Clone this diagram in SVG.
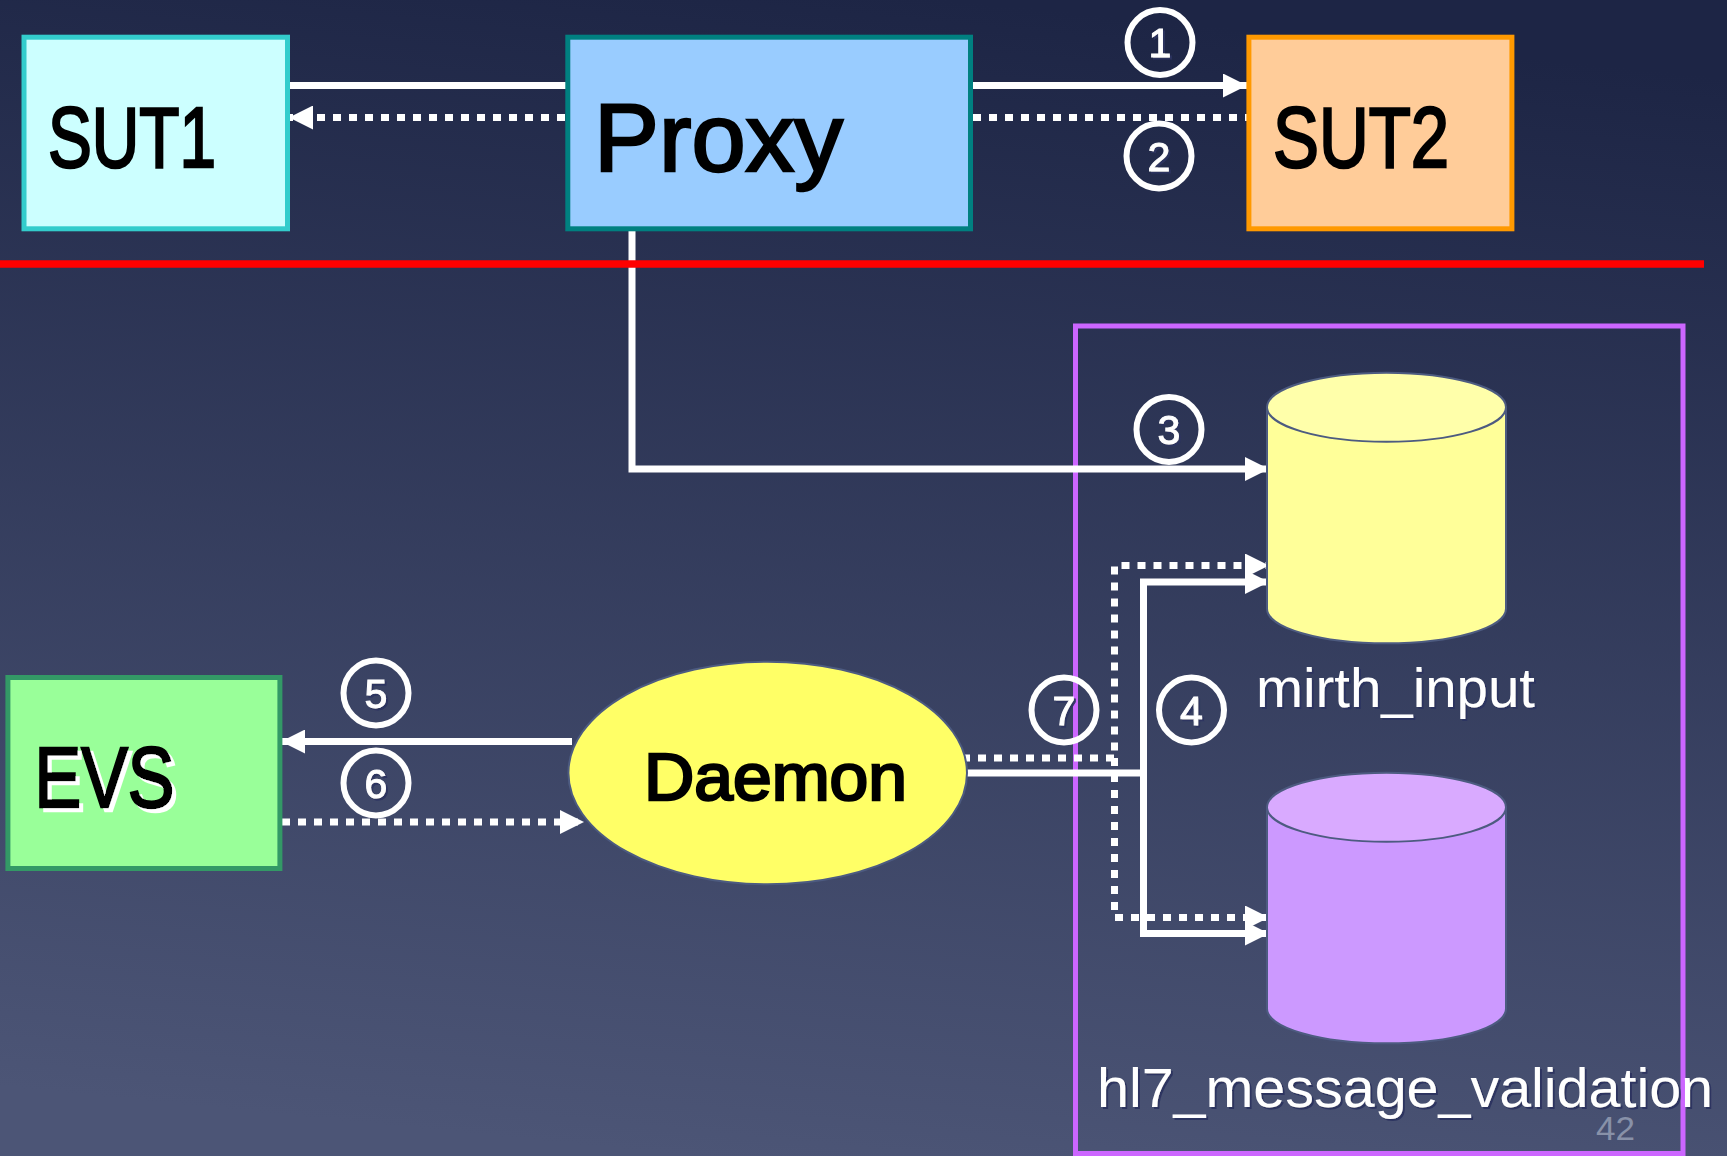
<svg xmlns="http://www.w3.org/2000/svg" width="1727" height="1156" viewBox="0 0 1727 1156">
  <defs>
    <linearGradient id="bg" x1="0.55" y1="0" x2="0.4" y2="1">
      <stop offset="0" stop-color="#1D2545"/>
      <stop offset="1" stop-color="#4C5576"/>
    </linearGradient>
    <filter id="shDark" x="-20%" y="-20%" width="140%" height="140%">
      <feDropShadow dx="2" dy="2" stdDeviation="0.6" flood-color="#2A3360" flood-opacity="0.95"/>
    </filter>
    <filter id="shWhite" x="-20%" y="-20%" width="140%" height="140%">
      <feDropShadow dx="4" dy="4" stdDeviation="0" flood-color="#FFFFFF" flood-opacity="1"/>
    </filter>
    <marker id="arr" markerUnits="userSpaceOnUse" markerWidth="24" markerHeight="24" refX="24" refY="12" orient="auto">
      <path d="M0,0 L24,12 L0,24 Z" fill="#FFFFFF"/>
    </marker>
    <style>
      .ln { fill: none; stroke: #FFFFFF; stroke-width: 7; }
      .dt { fill: none; stroke: #FFFFFF; stroke-width: 7; stroke-dasharray: 8 8; }
      .num { fill: none; stroke: #FFFFFF; stroke-width: 6; }
      .digit { font-family: "Liberation Sans", Arial, sans-serif; font-size: 41px; fill: #FFFFFF; stroke: #FFFFFF; stroke-width: 1; text-anchor: middle; filter: url(#shDark); }
      .big { font-family: "Liberation Sans", Arial, sans-serif; font-weight: normal; fill: #000000; stroke: #000000; stroke-width: 2.5; }
      .lbl { font-family: "Liberation Sans", Arial, sans-serif; font-size: 56px; fill: #FFFFFF; filter: url(#shDark); }
      .cylStroke { stroke: #4D5B80; stroke-width: 2; }
    </style>
  </defs>

  <rect x="0" y="0" width="1727" height="1156" fill="url(#bg)"/>

  <g id="db-frame">
    <rect x="1075.5" y="326" width="607.5" height="827.5" fill="none" stroke="#CC66FF" stroke-width="5"/>
  </g>

  <g id="connectors">
    <line class="ln" x1="290" y1="85.5" x2="566" y2="85.5"/>
    <line class="dt" x1="565" y1="117.5" x2="289" y2="117.5" marker-end="url(#arr)"/>
    <line class="ln" x1="973" y1="85.5" x2="1247" y2="85.5" marker-end="url(#arr)"/>
    <line class="dt" x1="973" y1="117.5" x2="1247" y2="117.5"/>
    <path class="ln" d="M632,231 V469 H1269" marker-end="url(#arr)"/>
    <line class="ln" x1="572" y1="741.5" x2="281" y2="741.5" marker-end="url(#arr)"/>
    <line class="dt" x1="282" y1="822" x2="584" y2="822" marker-end="url(#arr)"/>
    <path class="dt" d="M962,758 H1114.5 V565.5 H1269" marker-end="url(#arr)"/>
    <path class="dt" d="M1114.5,758 V917.5 H1269" marker-end="url(#arr)"/>
    <path class="ln" d="M962,773 H1143.5 V582 H1269" marker-end="url(#arr)"/>
    <path class="ln" d="M1143.5,773 V933.5 H1269" marker-end="url(#arr)"/>

    <g id="label-1"><circle class="num" cx="1160" cy="42.5" r="32.5"/><text class="digit" x="1160" y="57">1</text></g>
    <g id="label-2"><circle class="num" cx="1159" cy="156" r="32.5"/><text class="digit" x="1159" y="170.5">2</text></g>
    <g id="label-3"><circle class="num" cx="1169" cy="429.5" r="32.5"/><text class="digit" x="1169" y="444">3</text></g>
    <g id="label-4"><circle class="num" cx="1191.5" cy="710" r="32.5"/><text class="digit" x="1191.5" y="724.5">4</text></g>
    <g id="label-5"><circle class="num" cx="376" cy="693" r="32.5"/><text class="digit" x="376" y="707.5">5</text></g>
    <g id="label-6"><circle class="num" cx="376" cy="783" r="32.5"/><text class="digit" x="376" y="797.5">6</text></g>
    <g id="label-7"><circle class="num" cx="1064" cy="710" r="32.5"/><text class="digit" x="1064" y="724.5">7</text></g>
  </g>

  <line id="divider" x1="0" y1="264" x2="1704" y2="264" stroke="#FF0000" stroke-width="7.5"/>

  <g id="SUT1">
    <rect x="24" y="37.2" width="263.5" height="191.6" fill="#CCFFFF" stroke="#33CCCC" stroke-width="5"/>
    <text class="big" x="48" y="166.7" font-size="86" textLength="168" lengthAdjust="spacingAndGlyphs">SUT1</text>
  </g>

  <g id="Proxy">
    <rect x="567.8" y="37.2" width="402.7" height="191.6" fill="#99CCFF" stroke="#008080" stroke-width="5"/>
    <text class="big" x="594" y="170.7" font-size="96" textLength="249" lengthAdjust="spacingAndGlyphs">Proxy</text>
  </g>

  <g id="SUT2">
    <rect x="1248.9" y="37.2" width="263" height="191.6" fill="#FFCC99" stroke="#FF9900" stroke-width="5"/>
    <text class="big" x="1273" y="166.7" font-size="86" textLength="176" lengthAdjust="spacingAndGlyphs">SUT2</text>
  </g>

  <g id="EVS">
    <rect x="7.9" y="677.5" width="272" height="191" fill="#99FF99" stroke="#339966" stroke-width="5"/>
    <text class="big" x="34.5" y="806.7" font-size="86" textLength="140" lengthAdjust="spacingAndGlyphs" filter="url(#shWhite)">EVS</text>
  </g>

  <g id="Daemon">
    <ellipse cx="767.7" cy="773" rx="199.3" ry="111.3" fill="#FFFF66" stroke="#4D5B80" stroke-width="2"/>
    <text class="big" x="644" y="800" font-size="66" textLength="263" lengthAdjust="spacingAndGlyphs">Daemon</text>
  </g>

  <g id="mirth_input">
    <path class="cylStroke" d="M1267,407.2 V608.8 A119.5,34.5 0 0 0 1506,608.8 V407.2 Z" fill="#FFFF99"/>
    <ellipse class="cylStroke" cx="1386.5" cy="407.2" rx="119.5" ry="34.5" fill="#FFFFAA"/>
    <text class="lbl" x="1256" y="707" textLength="279" lengthAdjust="spacingAndGlyphs">mirth_input</text>
  </g>

  <g id="hl7_message_validation">
    <path class="cylStroke" d="M1267,807.2 V1008.8 A119.5,34.5 0 0 0 1506,1008.8 V807.2 Z" fill="#CC99FF"/>
    <ellipse class="cylStroke" cx="1386.5" cy="807.2" rx="119.5" ry="34.5" fill="#D9AAFF"/>
    <text class="lbl" x="1097" y="1107" textLength="616" lengthAdjust="spacingAndGlyphs">hl7_message_validation</text>
  </g>

  <text id="page-number" x="1596" y="1140" font-family="Liberation Sans, Arial, sans-serif" font-size="34" fill="#8891A8" textLength="39" lengthAdjust="spacingAndGlyphs">42</text>
</svg>
